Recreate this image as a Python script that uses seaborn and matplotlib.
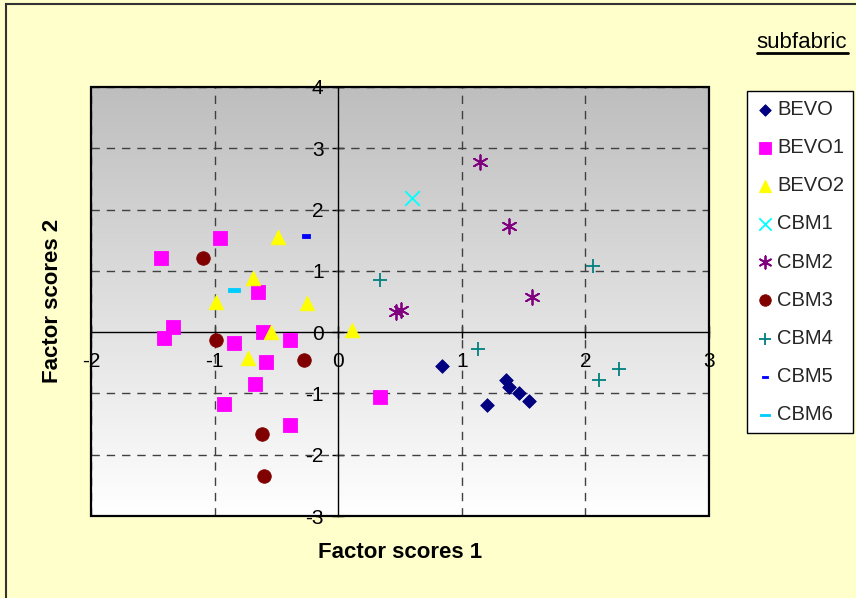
import numpy as np
import pandas as pd
import matplotlib
matplotlib.use("Agg")
import matplotlib.pyplot as plt
import seaborn as sns
from matplotlib.path import Path
from matplotlib.patches import Rectangle
from matplotlib.colors import LinearSegmentedColormap

sns.set_theme(style="white")
plt.rcParams['font.family'] = ['Liberation Sans', 'DejaVu Sans']

# ---- data ----
groups = ["BEVO", "BEVO1", "BEVO2", "CBM1", "CBM2", "CBM3", "CBM4", "CBM5", "CBM6"]
bevo_x = [0.84, 1.36, 1.38, 1.46, 1.54, 1.20]
bevo_y = [-0.56, -0.78, -0.90, -0.99, -1.12, -1.19]
bevo1_x = [-0.96, -1.43, -0.65, -1.34, -1.41, -0.61, -0.84, -0.39, -0.585, -0.67, -0.925, -0.39, 0.34]
bevo1_y = [1.53, 1.21, 0.65, 0.09, -0.10, 0.01, -0.17, -0.13, -0.49, -0.85, -1.18, -1.51, -1.06]
bevo2_x = [-0.49, -0.69, -0.99, -0.25, -0.54, -0.73, 0.11]
bevo2_y = [1.56, 0.88, 0.50, 0.48, 0.01, -0.42, 0.04]
cbm1_x = [0.60]
cbm1_y = [2.19]
cbm2_x = [1.15, 1.38, 1.57, 0.47, 0.505]
cbm2_y = [2.77, 1.74, 0.58, 0.33, 0.36]
cbm3_x = [-1.09, -0.99, -0.275, -0.62, -0.60]
cbm3_y = [1.21, -0.13, -0.46, -1.67, -2.35]
cbm4_x = [2.06, 0.34, 1.13, 2.27, 2.11]
cbm4_y = [1.08, 0.85, -0.27, -0.60, -0.78]
cbm5_x = [-0.26]
cbm5_y = [1.57]
cbm6_x = [-0.84]
cbm6_y = [0.68]

xs = [bevo_x, bevo1_x, bevo2_x, cbm1_x, cbm2_x, cbm3_x, cbm4_x, cbm5_x, cbm6_x]
ys = [bevo_y, bevo1_y, bevo2_y, cbm1_y, cbm2_y, cbm3_y, cbm4_y, cbm5_y, cbm6_y]

x_ticks = [-2, -1, 0, 1, 2, 3]
y_ticks = [-3, -2, -1, 0, 1, 2, 3, 4]

# ---- styles ----
dash_short = Path([(-1, -0.45), (1, -0.45), (1, 0.45), (-1, 0.45), (-1, -0.45)],
                  [Path.MOVETO, Path.LINETO, Path.LINETO, Path.LINETO, Path.CLOSEPOLY])
dash_long = Path([(-1, -0.3), (1, -0.3), (1, 0.3), (-1, 0.3), (-1, -0.3)],
                 [Path.MOVETO, Path.LINETO, Path.LINETO, Path.LINETO, Path.CLOSEPOLY])
styles = {
    "BEVO": dict(marker="D", color="#000080", s=48, filled=True),
    "BEVO1": dict(marker="s", color="#FF00FF", s=95, filled=True),
    "BEVO2": dict(marker="^", color="#FFFF00", s=110, filled=True),
    "CBM1": dict(marker="x", color="#00FFFF", s=110, filled=False),
    "CBM2": dict(marker=(6, 2, 0), color="#800080", s=110, filled=False),
    "CBM3": dict(marker="o", color="#800000", s=95, filled=True),
    "CBM4": dict(marker="+", color="#008080", s=90, filled=False),
    "CBM5": dict(marker=dash_short, color="#0000FF", s=28, filled=True),
    "CBM6": dict(marker=dash_long, color="#00CCFF", s=70, filled=True),
}

W, H = 856, 598
fig = plt.figure(figsize=(W / 100, H / 100), dpi=100)
fig.patch.set_facecolor("#FFFFCC")

L, R, T, B = 91, 709, 87, 516
ax = fig.add_axes([L / W, 1 - B / H, (R - L) / W, (B - T) / H])

# gradient background: dark grey at top, white at bottom
grad = np.linspace(0, 1, 256).reshape(-1, 1)
cmap = LinearSegmentedColormap.from_list("g", ["#BEBEBE", "#FFFFFF"])
ax.imshow(grad, cmap=cmap, aspect="auto", extent=(-2, 3, -3, 4), zorder=0, origin="upper")
ax.set_xlim(-2, 3)
ax.set_ylim(-3, 4)

for g, gx, gy in zip(groups, xs, ys):
    st = styles[g]
    kw = dict(marker=st["marker"], color=st["color"], s=st["s"], label=g, ax=ax, zorder=5)
    if st["filled"]:
        kw.update(edgecolor=st["color"], linewidth=0.6)
    else:
        kw.update(linewidth=1.3)
    sns.scatterplot(x=gx, y=gy, **kw)

ax.set_xlim(-2, 3)
ax.set_ylim(-3, 4)
ax.set_xticks(x_ticks)
ax.set_yticks(y_ticks)
ax.set_xticklabels([str(v) for v in x_ticks])
ax.set_yticklabels([str(v) for v in y_ticks])

# dashed grid lines except zero lines
for v in x_ticks:
    if v != 0:
        ax.axvline(v, color="#404040", lw=1.0, ls=(0, (6, 5)), zorder=1)
for v in y_ticks:
    if v != 0:
        ax.axhline(v, color="#404040", lw=1.0, ls=(0, (6, 5)), zorder=1)

# zero-crossing axes
for sp in ["top", "right"]:
    ax.spines[sp].set_visible(False)
for sp in ["left", "bottom"]:
    ax.spines[sp].set_position(("data", 0))
    ax.spines[sp].set_color("#000000")
    ax.spines[sp].set_linewidth(1.0)
    ax.spines[sp].set_zorder(2)
ax.tick_params(axis="both", direction="inout", length=9, width=1, colors="black",
               labelsize=15, labelcolor="black")
ax.tick_params(axis="x", pad=10, bottom=True)
ax.tick_params(axis="y", pad=6, left=True)
for lab in ax.get_xticklabels() + ax.get_yticklabels():
    lab.set_zorder(6)
ax.set_xlabel("")
ax.set_ylabel("")

# plot-area frame
ax.add_patch(Rectangle((0, 0), 1, 1, transform=ax.transAxes, fill=False,
                       edgecolor="black", lw=1.6, zorder=7, clip_on=False))

# figure border (left/top visible)
fig.patches.append(Rectangle((6 / W, -0.5), 2, 1.5 - 4 / H, transform=fig.transFigure,
                             fill=False, edgecolor="#333333", lw=1.5))

# axis titles
fig.text(400 / W, 1 - 553 / H, "Factor scores 1", ha="center", va="center",
         fontsize=16, fontweight="bold", color="black")
fig.text(53 / W, 1 - 301 / H, "Factor scores 2", ha="center", va="center",
         rotation=90, fontsize=16, fontweight="bold", color="black")

# subfabric title (underlined)
fig.text(802 / W, 1 - 48 / H, "subfabric", ha="center", va="baseline", fontsize=16, color="black")
fig.add_artist(plt.Line2D([757 / W, 848 / W], [1 - 52.5 / H, 1 - 52.5 / H],
                          transform=fig.transFigure, color="black", lw=2))

# legend
leg = ax.legend(loc="upper left", bbox_to_anchor=(747 / W, 1 - 91 / H),
                bbox_transform=fig.transFigure, frameon=True, fancybox=False,
                edgecolor="black", facecolor="white", framealpha=1, fontsize=14.5,
                labelspacing=0.95, handletextpad=0.2, handlelength=0.85,
                borderpad=0.45, borderaxespad=0, markerscale=0.85)
leg.get_frame().set_linewidth(1.0)
leg.set_zorder(10)

fig.savefig("out.png", dpi=100, facecolor=fig.get_facecolor())
